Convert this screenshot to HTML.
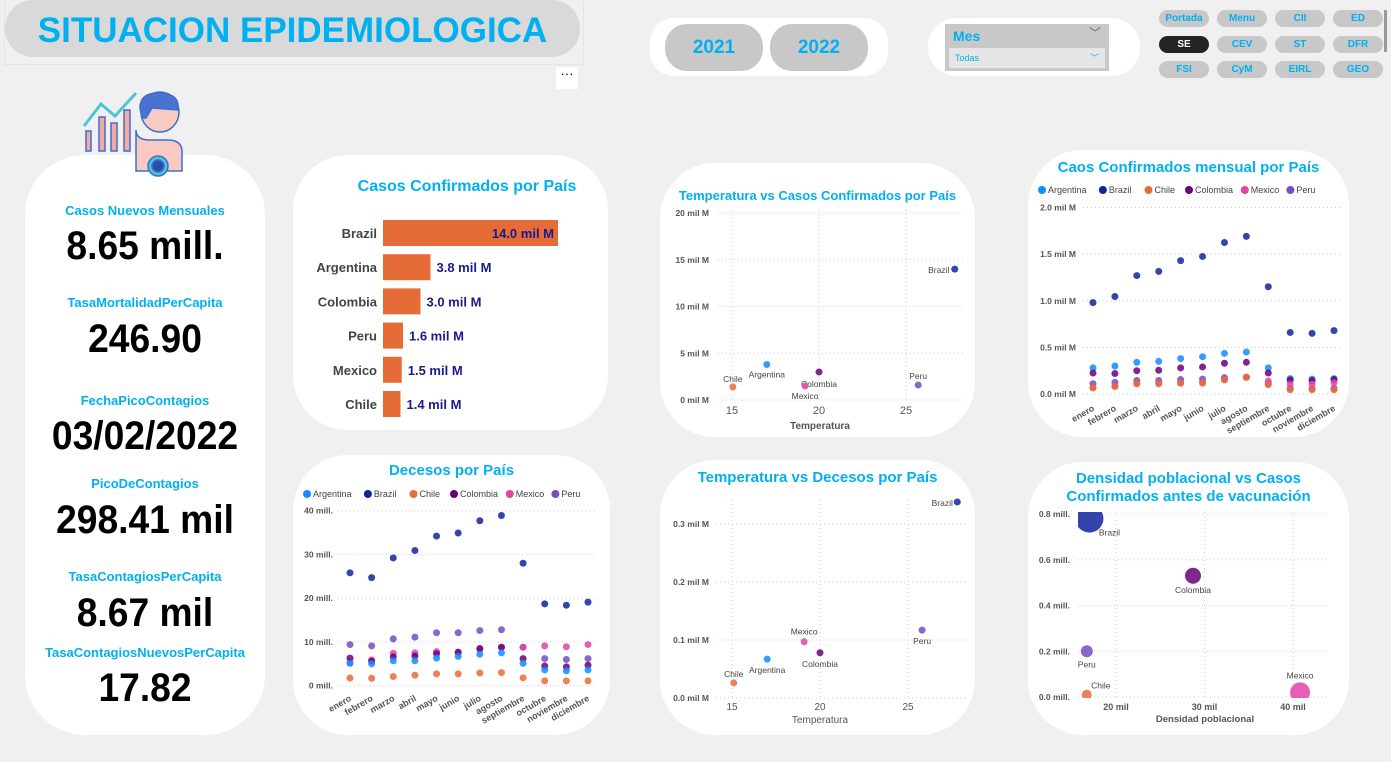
<!DOCTYPE html>
<html><head><meta charset="utf-8">
<style>
body{margin:0;width:1391px;height:762px;background:#f0f0f0;font-family:"Liberation Sans",sans-serif;overflow:hidden;position:relative}
.abs{position:absolute}
.card{position:absolute;background:#fff;border-radius:55px}
.kl{position:absolute;left:25px;width:240px;text-align:center;color:#00b0f0;font-weight:bold;font-size:13px}
.kv{position:absolute;left:25px;width:240px;text-align:center;color:#000;font-weight:bold;font-size:40px;font-family:"Liberation Sans Narrow","Liberation Sans",sans-serif;transform:scaleX(.93)}
.nav{position:absolute;width:50px;height:17px;border-radius:9px;background:#c8c8c8;color:#00b0f0;font-size:10px;font-weight:bold;text-align:center;line-height:17px;font-family:"Liberation Sans Narrow","Liberation Sans",sans-serif}
.ttl{position:absolute;color:#00b0f0;font-weight:bold;font-size:15px;text-align:center}
</style></head><body>
<div class="abs" style="left:4px;top:0;width:578px;height:64px;border:1px solid #e4e4e4;border-top:none"></div>
<div class="abs" style="left:5px;top:0;width:575px;height:57px;background:#d9d9d9;border-radius:28px;color:#00b0f0;font-weight:bold;font-size:35px;line-height:62px;text-align:center;transform-origin:left;">SITUACION EPIDEMIOLOGICA</div>
<div class="abs" style="left:556px;top:67px;width:22px;height:22px;background:#fff;font-size:13px;text-align:center;line-height:14px">···</div>

<div class="abs" style="left:650px;top:18px;width:238px;height:58px;background:#fff;border-radius:24px"></div>
<div class="abs" style="left:665px;top:24px;width:98px;height:47px;background:#c8c8c8;border-radius:22px;color:#00b0f0;font-weight:bold;font-size:19px;text-align:center;line-height:47px">2021</div>
<div class="abs" style="left:770px;top:24px;width:98px;height:47px;background:#c8c8c8;border-radius:22px;color:#00b0f0;font-weight:bold;font-size:19px;text-align:center;line-height:47px">2022</div>

<div class="abs" style="left:928px;top:18px;width:212px;height:58px;background:#fff;border-radius:28px"></div>
<div class="abs" style="left:945px;top:24px;width:164px;height:47px;background:#c8c8c8">
<div style="position:absolute;left:8px;top:4px;color:#00b0f0;font-weight:bold;font-size:14px">Mes</div>
<div style="position:absolute;right:8px;top:0;color:#666;font-size:12px">﹀</div>
<div style="position:absolute;left:4px;top:24px;width:156px;height:20px;background:#e6e6e6;color:#00b0f0;font-size:9px;line-height:20px;padding-left:6px;box-sizing:border-box">Todas<span style="position:absolute;right:6px;top:0">﹀</span></div>
</div>

<div class="nav" style="left:1159px;top:10px">Portada</div>
<div class="nav" style="left:1217px;top:10px">Menu</div>
<div class="nav" style="left:1275px;top:10px">CII</div>
<div class="nav" style="left:1333px;top:10px">ED</div>
<div class="nav" style="left:1159px;top:36px;background:#252423;color:#fff">SE</div>
<div class="nav" style="left:1217px;top:36px">CEV</div>
<div class="nav" style="left:1275px;top:36px">ST</div>
<div class="nav" style="left:1333px;top:36px">DFR</div>
<div class="nav" style="left:1159px;top:61px">FSI</div>
<div class="nav" style="left:1217px;top:61px">CyM</div>
<div class="nav" style="left:1275px;top:61px">EIRL</div>
<div class="nav" style="left:1333px;top:61px">GEO</div>
<div class="abs" style="left:1384px;top:10px;width:3px;height:42px;background:#999"></div>

<div class="card" style="left:25px;top:155px;width:240px;height:580px;border-radius:60px"></div>
<svg class="abs" style="left:80px;top:90px" width="110" height="95" viewBox="0 0 110 95">
<g stroke="#3a6fd0" stroke-width="1.5">
<rect x="6" y="41" width="5" height="20" fill="#f7a8a0"/><rect x="19" y="27" width="6" height="34" fill="#f7a8a0"/><rect x="31" y="33" width="6" height="28" fill="#f7a8a0"/><rect x="44" y="20" width="6" height="41" fill="#f7a8a0"/>
<polyline points="4,36 21,14 35,26 56,3" fill="none" stroke="#4fc3d8" stroke-width="3"/>
<path d="M56 40 Q56 50 70 50 L88 50 Q102 50 102 62 L102 81 L56 81 Z" fill="#f9c9c3"/>
<ellipse cx="80" cy="22" rx="19" ry="20" fill="#f9c9c3"/>
<path d="M60 18 Q60 3 78 3 Q98 3 98 16 L98 20 L72 18 L66 28 L62 28 Z" fill="#4a72d0"/>
<circle cx="78" cy="76" r="10" fill="#4fc3d8"/><circle cx="78" cy="76" r="6" fill="#2b4fa8"/>
</g></svg>
<div class="kl" style="top:203px">Casos Nuevos Mensuales</div>
<div class="kv" style="top:224px">8.65 mill.</div>
<div class="kl" style="top:295px">TasaMortalidadPerCapita</div>
<div class="kv" style="top:317px">246.90</div>
<div class="kl" style="top:393px">FechaPicoContagios</div>
<div class="kv" style="top:414px">03/02/2022</div>
<div class="kl" style="top:476px">PicoDeContagios</div>
<div class="kv" style="top:498px">298.41 mil</div>
<div class="kl" style="top:569px">TasaContagiosPerCapita</div>
<div class="kv" style="top:591px">8.67 mil</div>
<div class="kl" style="top:645px">TasaContagiosNuevosPerCapita</div>
<div class="kv" style="top:666px">17.82</div>

<div class="card" style="left:293px;top:155px;width:315px;height:275px"></div>
<div class="card" style="left:660px;top:163px;width:315px;height:274px"></div>
<div class="card" style="left:1028px;top:150px;width:321px;height:287px"></div>
<div class="card" style="left:293px;top:455px;width:317px;height:280px"></div>
<div class="card" style="left:660px;top:460px;width:315px;height:275px"></div>
<div class="card" style="left:1028px;top:462px;width:321px;height:273px"></div>

<div class="ttl" style="left:293px;top:178px;width:348px;font-size:16px">Casos Confirmados por País</div>
<div class="ttl" style="left:660px;top:188px;width:315px;font-size:13px">Temperatura vs Casos Confirmados por País</div>
<div class="ttl" style="left:1028px;top:159px;width:321px">Caos Confirmados mensual por País</div>
<div class="ttl" style="left:293px;top:462px;width:317px">Decesos por País</div>
<div class="ttl" style="left:660px;top:469px;width:315px">Temperatura vs Decesos por País</div>
<div class="ttl" style="left:1028px;top:470px;width:321px;line-height:18px">Densidad poblacional vs Casos<br>Confirmados antes de vacunación</div>

<svg id="chart" class="abs" style="left:0;top:0" width="1391" height="762">
<defs><clipPath id="dclip"><rect x="1078" y="512" width="254" height="186"/></clipPath></defs>
</svg>

<script>
const countries = ["Argentina","Brazil","Chile","Colombia","Mexico","Peru"];
const countryColors = ["#118dff","#12239e","#e66c37","#6b007b","#e044a7","#744ec2"];
const months = ["enero","febrero","marzo","abril","mayo","junio","julio","agosto","septiembre","octubre","noviembre","diciembre"];

const barCategories = ["Brazil","Argentina","Colombia","Peru","Mexico","Chile"];
const barValues = [14.0,3.8,3.0,1.6,1.5,1.4];

const tcTemp = [17.0,27.8,15.05,20.0,19.2,25.7];
const tcCases = [3.8,14.0,1.4,3.0,1.5,1.6];
const tcXTicks = [15,20,25];
const tcYTicks = [0,5,10,15,20];

const mcArgentina = [0.28,0.30,0.34,0.35,0.38,0.40,0.435,0.45,0.28,0.165,0.16,0.165];
const mcBrazil = [0.98,1.045,1.27,1.315,1.43,1.475,1.625,1.69,1.15,0.66,0.65,0.68];
const mcChile = [0.065,0.08,0.11,0.11,0.115,0.115,0.15,0.18,0.10,0.045,0.045,0.045];
const mcColombia = [0.225,0.22,0.25,0.255,0.28,0.29,0.33,0.34,0.225,0.15,0.145,0.155];
const mcMexico = [0.07,0.085,0.115,0.115,0.12,0.125,0.155,0.18,0.14,0.105,0.105,0.12];
const mcPeru = [0.11,0.125,0.145,0.145,0.155,0.16,0.175,0.18,0.11,0.06,0.057,0.06];
const mcYTicks = [0,0.5,1.0,1.5,2.0];

const dArgentina = [5.1,5.0,5.7,5.7,6.3,6.7,7.2,7.5,5.1,3.6,3.4,3.6];
const dBrazil = [25.8,24.7,29.2,30.9,34.2,34.9,37.7,38.9,28.0,18.7,18.4,19.1];
const dChile = [1.75,1.7,2.1,2.4,2.7,2.7,2.9,3.0,1.8,1.1,1.1,1.1];
const dColombia = [6.3,5.6,6.6,6.8,7.3,7.6,8.5,8.8,6.2,4.5,4.3,4.7];
const dMexico = [5.3,5.9,7.4,7.5,7.8,7.7,8.3,8.8,8.8,9.1,8.9,9.4];
const dPeru = [9.4,9.1,10.7,11.1,12.1,12.1,12.6,12.8,8.8,6.2,6.0,6.2];
const dYTicks = [0,10,20,30,40];

const tdTemp = [17.0,27.8,15.1,20.0,19.1,25.8];
const tdDeaths = [0.067,0.338,0.026,0.078,0.097,0.117];
const tdXTicks = [15,20,25];
const tdYTicks = [0,0.1,0.2,0.3];

const denDensity = [17.0,28.7,16.7,40.8,16.7];
const denCases = [0.78,0.53,0.2,0.02,0.01];
const denCountries = ["Brazil","Colombia","Peru","Mexico","Chile"];
const denSize = [14,8,6,10,5];
const denXTicks = [20,30,40];
const denYTicks = [0,0.2,0.4,0.6,0.8];

const svg = document.getElementById('chart');
const NS = 'http://www.w3.org/2000/svg';
function mk(tag, attrs, parent){const e=document.createElementNS(NS,tag);for(const k in attrs)e.setAttribute(k,attrs[k]);(parent||svg).appendChild(e);return e;}
function txt(x,y,s,attrs){const t=mk('text',Object.assign({x:x,y:y,'font-family':'Liberation Sans, sans-serif'},attrs));t.textContent=s;return t;}
function lin(d0,d1,r0,r1){return v=>r0+(v-d0)*(r1-r0)/(d1-d0);}
function colorOf(c){return countryColors[countries.indexOf(c)];}

// Bar chart
const bx = lin(0,14,383,558);
barCategories.forEach((c,i)=>{
  const cy = 233 + i*34.2;
  const r = mk('rect',{x:bx(0),y:cy-13,width:bx(barValues[i])-bx(0),height:26,fill:'#e66c37'});
  
  
  const l = txt(377,cy+5,c,{'text-anchor':'end','font-size':13,'font-weight':'bold',fill:'#444'});
  
  
  const s = barValues[i].toFixed(1)+' mil M';
  const inside = i===0;
  const v = txt(inside?bx(barValues[i])-4:bx(barValues[i])+6,cy+5,s,{'text-anchor':inside?'end':'start','font-size':13,'font-weight':'bold',fill:'#1a1a8c'});
  
  
});

function grid(x0,x1,y){mk('line',{x1:x0,x2:x1,y1:y,y2:y,stroke:'#ccc','stroke-dasharray':'1,3'});}
function vgrid(x,y0,y1){mk('line',{x1:x,x2:x,y1:y0,y2:y1,stroke:'#ccc','stroke-dasharray':'1,3'});}
function dot(x,y,r,col,name){const c=mk('circle',{cx:x,cy:y,r:r,fill:col,'fill-opacity':0.85});return c;}

// Temperature vs cases
{
  const X=lin(15,25,732,906), Y=lin(0,20,400,213);
  tcYTicks.forEach(t=>{grid(718,965,Y(t));const l=txt(709,Y(t)+3,t+' mil M',{'text-anchor':'end','font-size':8.5,'font-weight':'bold',fill:'#555'});});
  tcXTicks.forEach(t=>{vgrid(X(t),210,400);const l=txt(X(t),414,t,{'text-anchor':'middle','font-size':11,fill:'#555'});});
  const at=txt(820,429,'Temperatura',{'text-anchor':'middle','font-size':10,'font-weight':'bold',fill:'#555'});
  const off={Argentina:[0,13],Brazil:[-16,4],Chile:[0,-5],Colombia:[0,15],Mexico:[0,13],Peru:[0,-6]};
  countries.forEach((c,i)=>{const x=X(tcTemp[i]),y=Y(tcCases[i]);dot(x,y,3.5,countryColors[i],'tc-point-'+c.toLowerCase());
    const l=txt(x+off[c][0],y+off[c][1],c,{'text-anchor':'middle','font-size':8.5,fill:'#444'});});
}

function legend(x0,y,prefix){
  let x=x0;
  countries.forEach((c,i)=>{mk('circle',{cx:x+4,cy:y-3,r:4,fill:countryColors[i]});const t=txt(x+10,y,c,{'font-size':9,fill:'#444'});x+=10+c.length*5.1+5;});
}
function monthAxis(X,y,prefix){
  months.forEach((m,i)=>{const t=txt(X(i)+2,y,m,{'text-anchor':'end','font-size':9,'font-weight':'bold',fill:'#555',transform:`rotate(-30 ${X(i)+2} ${y})`});});
}

// Monthly cases
{
  const X=lin(0,11,1093,1334), Y=lin(0,2,394,207.5);
  legend(1038,193,'mc');
  mcYTicks.forEach(t=>{grid(1083,1342,Y(t));const l=txt(1076,Y(t)+3,t.toFixed(1)+' mil M',{'text-anchor':'end','font-size':8.5,'font-weight':'bold',fill:'#555'});});
  monthAxis(X,410,'mc');
  const series=[mcArgentina,mcBrazil,mcColombia,mcPeru,mcMexico,mcChile], names=["Argentina","Brazil","Colombia","Peru","Mexico","Chile"];
  series.forEach((s,k)=>s.forEach((v,i)=>dot(X(i),Y(v),3.5,colorOf(names[k]),'mc-point-'+names[k].toLowerCase())));
}

// Deaths
{
  const X=lin(0,11,350,588), Y=lin(0,40,685.7,510.7);
  legend(303,497,'d');
  dYTicks.forEach(t=>{grid(338,597,Y(t));const l=txt(333,Y(t)+3,t+' mill.',{'text-anchor':'end','font-size':8.5,'font-weight':'bold',fill:'#555'});});
  monthAxis(X,700,'d');
  const series=[dPeru,dMexico,dColombia,dArgentina,dBrazil,dChile], names=["Peru","Mexico","Colombia","Argentina","Brazil","Chile"];
  series.forEach((s,k)=>s.forEach((v,i)=>dot(X(i),Y(v),3.5,colorOf(names[k]),'d-point-'+names[k].toLowerCase())));
}

// Temperature vs deaths
{
  const X=lin(15,25,732,908), Y=lin(0,0.3,698,524);
  tdYTicks.forEach(t=>{grid(716,965,Y(t));const l=txt(709,Y(t)+3,t.toFixed(1)+' mil M',{'text-anchor':'end','font-size':8.5,'font-weight':'bold',fill:'#555'});});
  tdXTicks.forEach(t=>{vgrid(X(t),500,698);const l=txt(X(t),710,t,{'text-anchor':'middle','font-size':10,fill:'#555'});});
  const at=txt(820,723,'Temperatura',{'text-anchor':'middle','font-size':10,fill:'#555'});
  const off={Argentina:[0,14],Brazil:[-15,4],Chile:[0,-6],Colombia:[0,14],Mexico:[0,-7],Peru:[0,14]};
  countries.forEach((c,i)=>{const x=X(tdTemp[i]),y=Y(tdDeaths[i]);dot(x,y,3.5,countryColors[i],'td-point-'+c.toLowerCase());
    const l=txt(x+off[c][0],y+off[c][1],c,{'text-anchor':'middle','font-size':8.5,fill:'#444'});});
}

// Density
{
  const X=lin(20,40,1116,1293), Y=lin(0,0.8,697,514);
  denYTicks.forEach(t=>{grid(1078,1330,Y(t));const l=txt(1070,Y(t)+3,t.toFixed(1)+' mill.',{'text-anchor':'end','font-size':8.5,'font-weight':'bold',fill:'#555'});});
  denXTicks.forEach(t=>{vgrid(X(t),512,697);const l=txt(X(t),710,t+' mil',{'text-anchor':'middle','font-size':9,'font-weight':'bold',fill:'#555'});});
  const at=txt(1205,722,'Densidad poblacional',{'text-anchor':'middle','font-size':9.5,'font-weight':'bold',fill:'#555'});
  const g=mk('g',{'clip-path':'url(#dclip)'});
  const off={Brazil:[20,17,'middle'],Colombia:[0,17,'middle'],Peru:[0,16,'middle'],Mexico:[0,-14,'middle'],Chile:[14,-6,'middle']};
  denCountries.forEach((c,i)=>{const x=X(denDensity[i]),y=Y(denCases[i]);
    const b=mk('circle',{cx:x,cy:y,r:denSize[i],fill:colorOf(c),'fill-opacity':0.85},g);
    
    
    const l=txt(x+off[c][0],y+off[c][1],c,{'text-anchor':off[c][2],'font-size':8.5,fill:'#444'});});
}
</script>
</body></html>
